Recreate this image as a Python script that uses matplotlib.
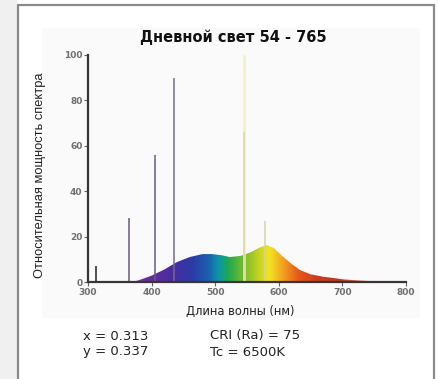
import matplotlib
matplotlib.use("Agg")
import matplotlib.pyplot as plt
import numpy as np
from matplotlib.colors import LinearSegmentedColormap
from matplotlib.patches import Polygon, Rectangle

# --- data ---------------------------------------------------------------
wl = [300, 360, 370, 380, 400, 420, 440, 460, 480, 495, 510, 523, 540,
      555, 570, 581, 592, 605, 620, 633, 650, 670, 685, 700, 720, 738, 760, 780, 800]
power = [0, 0, 0, 0.8, 2.8, 5.5, 8.8, 11.0, 12.3, 12.3, 11.8, 11.0, 11.5,
         13.0, 15.2, 16.3, 15.0, 11.5, 8.0, 5.3, 3.4, 2.3, 1.8, 1.2, 0.8, 0.5, 0.3, 0.1, 0]

peak_wl = [313, 365, 405, 436, 546, 546, 578]
peak_h = [7, 28, 56, 90, 100, 66, 27]
peak_col = ["#222222", "#6a5a7a", "#6a5a86", "#756a8e", "#f3efc4", "#ddd7a2", "#d6d3a4"]

x_ticks = [300, 400, 500, 600, 700, 800]
y_ticks = [0, 20, 40, 60, 80, 100]

spec_pos = [360, 390, 430, 465, 490, 505, 520, 545, 570, 585, 605, 630, 660, 700, 760, 800]
spec_col = ["#8a5aa8", "#6a2c98", "#4a2ca0", "#2a3ca8", "#1a62b0", "#0c96a8", "#20a850",
            "#78bc30", "#c8d420", "#f2e424", "#f4a820", "#e65a1c", "#cc3c1c", "#b83a28",
            "#ecb8a8", "#ffffff"]

# --- figure -------------------------------------------------------------
W, H = 438, 379
fig = plt.figure(figsize=(W / 100, H / 100), dpi=100)
fig.patch.set_facecolor("white")

# outer frame and soft grey corner on the left
fig.patches.append(Rectangle((0, 0), 17 / W, 1, transform=fig.transFigure,
                             facecolor="#f0f0f0", edgecolor="none", zorder=-3))
fig.patches.append(Rectangle((18 / W, -0.05), (434 - 18) / W, (1 - 5 / H) + 0.05,
                             transform=fig.transFigure, facecolor="white",
                             edgecolor="#8a8a8a", linewidth=1.6, zorder=-2))
fig.patches.append(Rectangle((42 / W, (H - 318) / H), (420 - 42) / W, (318 - 28) / H,
                             transform=fig.transFigure, facecolor="#fafafa",
                             edgecolor="none", zorder=-1))

ax = fig.add_axes([88 / W, (H - 282) / H, (406 - 88) / W, (282 - 55) / H])
ax.set_facecolor("none")
ax.set_xlim(300, 800)
ax.set_ylim(0, 100)

# coloured continuum
cmap = LinearSegmentedColormap.from_list(
    "spec", [((p - 360) / 440, c) for p, c in zip(spec_pos, spec_col)])
grad = np.linspace(0, 1, 500).reshape(1, -1)
im = ax.imshow(grad, cmap=cmap, aspect="auto", extent=[360, 800, 0, 20],
               origin="lower", zorder=2, interpolation="bilinear")
poly = Polygon(np.column_stack([wl, power]), closed=True, transform=ax.transData,
               facecolor="none", edgecolor="none")
ax.add_patch(poly)
im.set_clip_path(poly)

# mercury lines
for w, h, c in zip(peak_wl, peak_h, peak_col):
    lw = 1.8 if c.startswith("#f") else 1.1
    ax.plot([w, w], [0, h], color=c, lw=lw, zorder=3, solid_capstyle="butt")

for s in ["top", "right"]:
    ax.spines[s].set_visible(False)
for s in ["left", "bottom"]:
    ax.spines[s].set_color("#3a3434")
    ax.spines[s].set_linewidth(1.6)
    ax.spines[s].set_zorder(4)

ax.set_xticks(x_ticks)
ax.set_yticks(y_ticks)
ax.tick_params(length=3, width=0.8, color="#666666", labelsize=6.5,
               labelcolor="#707070", pad=1)
for lab in ax.get_xticklabels() + ax.get_yticklabels():
    lab.set_fontweight("bold")

# --- texts ---------------------------------------------------------------
fig.text(233 / W, 1 - 37 / H, "Дневной свет 54 - 765", ha="center", va="center",
         fontsize=10.5, fontweight="bold", family="DejaVu Sans", color="#111111")
fig.text(40 / W, 1 - 175 / H, "Относительная мощность спектра", rotation=90,
         ha="center", va="center", fontsize=9.3, family="Liberation Sans",
         color="#222222")
fig.text(240 / W, 1 - 311 / H, "Длина волны (нм)", ha="center", va="center",
         fontsize=8.3, family="DejaVu Sans", color="#222222")

info = [("x = 0.313", 83, 336), ("y = 0.337", 83, 352),
        ("CRI (Ra) = 75", 210, 336), ("Tc = 6500K", 210, 352)]
for txt, px, py in info:
    fig.text(px / W, 1 - py / H, txt, ha="left", va="center", fontsize=9.5,
             family="DejaVu Sans", color="#222222")

fig.savefig("out.png", dpi=100)
